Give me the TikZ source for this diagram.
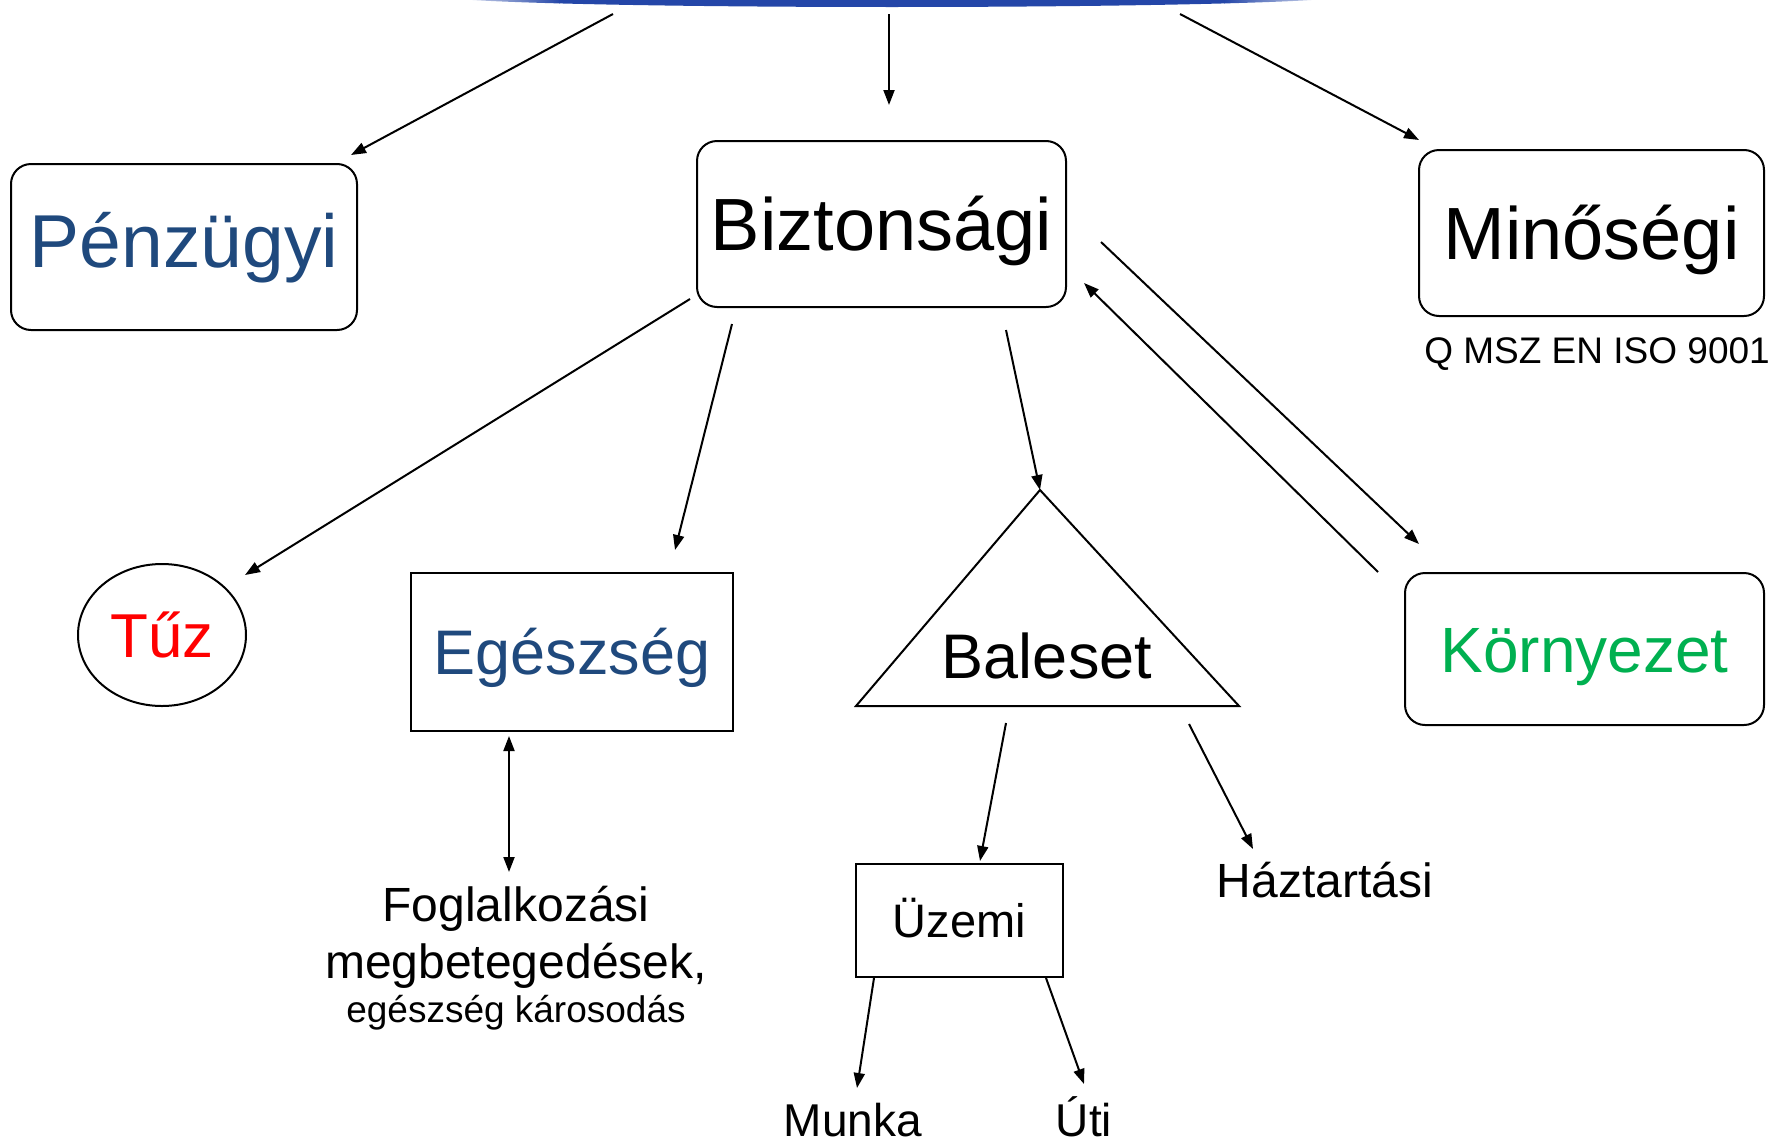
\documentclass[tikz,border=0pt]{standalone}
\usepackage{fontspec}
\setmainfont{Liberation Sans}
\usetikzlibrary{arrows.meta,shapes.geometric}
\definecolor{dkblue}{RGB}{31,73,125}
\definecolor{kgreen}{RGB}{0,176,80}
\definecolor{bandblue}{RGB}{36,70,168}
\tikzset{
  fsz/.style={font=\fontsize{#1}{#1}\selectfont},
  rbox/.style={draw, line width=2pt, rounded corners=20pt, inner sep=0pt, text depth=0pt},
  sbox/.style={draw, line width=2pt, inner sep=0pt, text depth=0pt},
  conn/.style={line width=2pt, -{Triangle[length=15pt,width=11pt]}},
  bconn/.style={line width=2pt, {Triangle[length=15pt,width=11pt]}-{Triangle[length=15pt,width=11pt]}},
  lbl/.style={anchor=base, inner sep=0pt},
}
\begin{document}
\begin{tikzpicture}[x=1pt,y=-1pt]
\useasboundingbox (0,0) rectangle (1771,1146);
% blue band at the top
\begin{scope}
  \clip (892,-4) ellipse [x radius=450, y radius=11];
  \shade[left color=white, right color=bandblue] (440,-20) rectangle (560,20);
  \fill[bandblue] (559,-20) rectangle (1225,20);
  \shade[left color=bandblue, right color=white] (1224,-20) rectangle (1345,20);
\end{scope}
% main nodes
\node[rbox, fsz=75, text=dkblue, minimum width=346pt, minimum height=166pt, text height=53pt, text depth=12pt] (penz) at (184,247) {Pénzügyi};
\node[rbox, fsz=74, minimum width=369pt, minimum height=166pt, text height=53pt] (bizt) at (881.5,224) {Biztonsági};
\node[rbox, fsz=74, minimum width=345pt, minimum height=166pt, text height=53pt] (min) at (1591.5,233) {Minőségi};
\node[lbl, fsz=37] (iso) at (1597,363) {Q MSZ EN ISO 9001};
\node[draw, ellipse, line width=2pt, inner sep=0pt, minimum width=168pt, minimum height=142pt, fsz=62, text=red, text height=44pt, text depth=0pt] (tuz) at (162,635) {Tűz};
\node[sbox, fsz=63, text=dkblue, minimum width=322pt, minimum height=158pt, text height=45pt] (egesz) at (572,652) {Egészség};
\node[rbox, fsz=64, text=kgreen, minimum width=359pt, minimum height=152pt, text height=46pt] (korny) at (1584.5,649) {Környezet};
% Baleset triangle
\coordinate (balA) at (1040,490);
\coordinate (balL) at (856,706);
\coordinate (balR) at (1239,706);
\draw[line width=2pt] (balA) -- (balL) -- (balR) -- cycle;
\node[lbl, fsz=63] (bal) at (1047,678) {Baleset};
\node[sbox, fsz=47, minimum width=207pt, minimum height=113pt, text height=34pt] (uzemi) at (959.5,920.5) {Üzemi};
\node[lbl, fsz=48] (haz) at (1325,897) {Háztartási};
\node[lbl, fsz=46] (munka) at (853,1136) {Munka};
\node[lbl, fsz=46] (uti) at (1084,1136) {Úti};
\node[lbl, fsz=48] (fog1) at (516,921) {Foglalkozási};
\node[lbl, fsz=48] (fog2) at (516,978) {megbetegedések,};
\node[lbl, fsz=37] (fog3) at (516,1022) {egészség károsodás};
% connector end points
\coordinate (topL) at (613,14);
\coordinate (topM) at (889,14);
\coordinate (topR) at (1180,14);
\coordinate (penzIn) at (351,155);
\coordinate (biztIn) at (889,105);
\coordinate (minIn) at (1419,140);
\coordinate (bzTuz) at (690,299);
\coordinate (tuzIn) at (245,575);
\coordinate (bzEg) at (732,324);
\coordinate (egIn) at (675,550);
\coordinate (bzBal) at (1006,330);
\coordinate (bzK) at (1101,242);
\coordinate (kIn) at (1419,544);
\coordinate (kOut) at (1378,572);
\coordinate (bzIn) at (1084,283);
\coordinate (egBot) at (509,736);
\coordinate (fogTop) at (509,872);
\coordinate (balOut1) at (1006,723);
\coordinate (uzIn) at (980,861);
\coordinate (balOut2) at (1189,724);
\coordinate (hazIn) at (1253,849);
\coordinate (uzOut1) at (874,978);
\coordinate (munkaIn) at (857,1088);
\coordinate (uzOut2) at (1046,978);
\coordinate (utiIn) at (1084,1084);
% connectors
\draw[conn] (topL) -- (penzIn);
\draw[conn] (topM) -- (biztIn);
\draw[conn] (topR) -- (minIn);
\draw[conn] (bzTuz) -- (tuzIn);
\draw[conn] (bzEg) -- (egIn);
\draw[conn] (bzBal) -- (balA);
\draw[conn] (bzK) -- (kIn);
\draw[conn] (kOut) -- (bzIn);
\draw[bconn] (egBot) -- (fogTop);
\draw[conn] (balOut1) -- (uzIn);
\draw[conn] (balOut2) -- (hazIn);
\draw[conn] (uzOut1) -- (munkaIn);
\draw[conn] (uzOut2) -- (utiIn);
\end{tikzpicture}
\end{document}
